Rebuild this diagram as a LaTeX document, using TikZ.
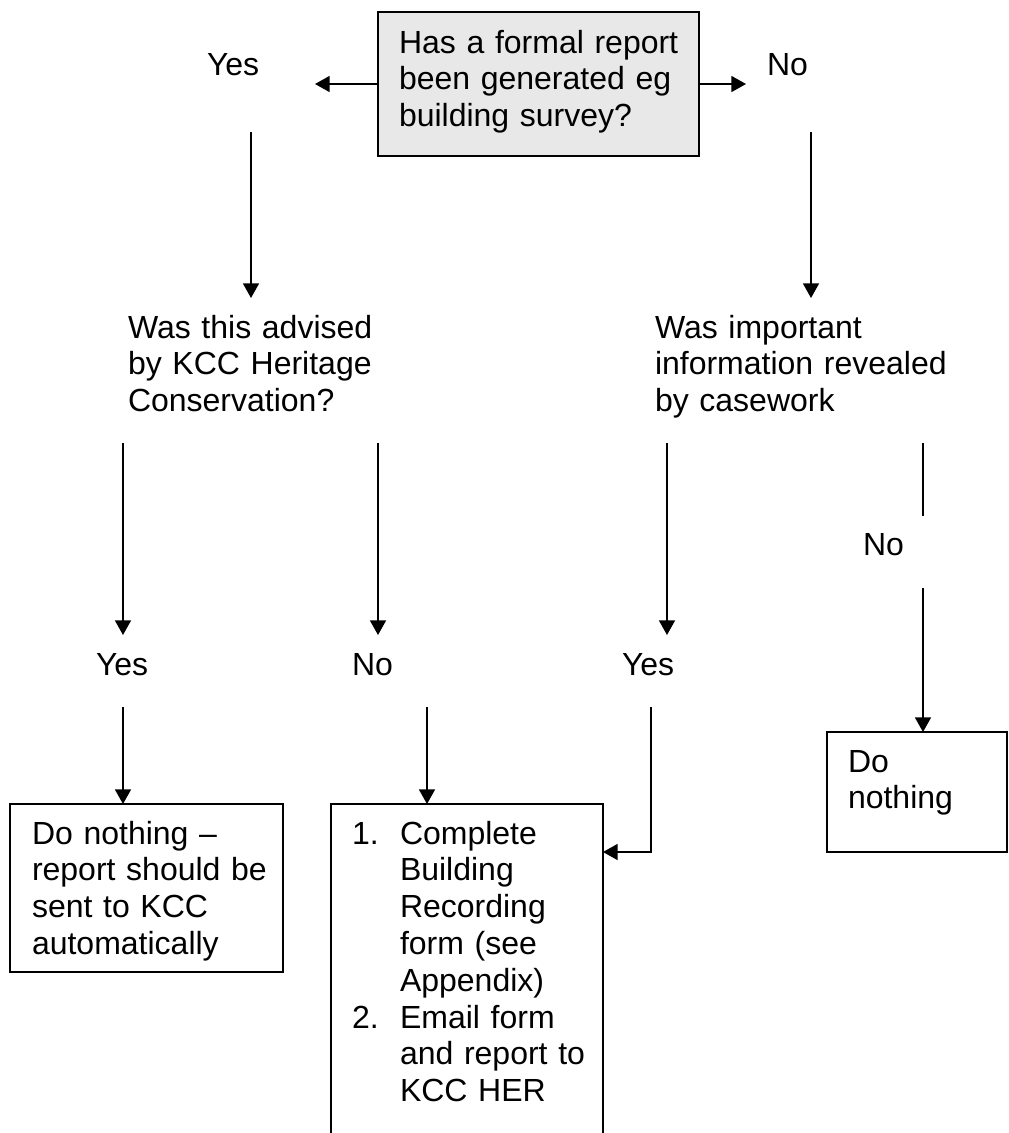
\documentclass[tikz,border=0pt]{standalone}
\usepackage{fontspec}
\setmainfont{Liberation Sans}
\usetikzlibrary{arrows.meta}
\definecolor{boxgray}{HTML}{E8E8E8}
\begin{document}
\begin{tikzpicture}[x=0.75pt,y=-0.75pt,
  every node/.style={inner sep=0pt,outer sep=0pt},
  txt/.style={anchor=base west,align=left,text width=260pt,
    font=\fontsize{24pt}{27.6pt}\selectfont},
  boxx/.style={draw,line width=1.3pt,rectangle},
  conn/.style={line width=1.3pt},
  arr/.style={conn,-{Triangle[length=11pt,width=12pt]}}]
\useasboundingbox (0,0) rectangle (1009,1133);

% boxes
\node[boxx,fill=boxgray,minimum width=240.75pt,minimum height=108pt] (q) at (538.5,84) {};
\node[boxx,minimum width=204.75pt,minimum height=126pt] (l) at (146.5,888) {};
\node[minimum width=204pt,minimum height=249pt] (m) at (467,970) {};
\draw[line width=1.3pt] (m.south west) -- (m.north west) -- (m.north east) -- (m.south east);
\node[boxx,minimum width=135pt,minimum height=90pt] (d) at (917,792) {};

% texts
\node[txt] (qt) at (399,53) {Has a formal report\\been generated eg\\building survey?};
\node[txt] (yes0) at (207,75) {Yes};
\node[txt] (no0) at (767,75) {No};
\node[txt] (adv) at (128,338) {Was this advised\\by KCC Heritage\\Conservation?};
\node[txt] (imp) at (655,338) {Was important\\information revealed\\by casework};
\node[txt] (yes1) at (96,675) {Yes};
\node[txt] (no1) at (352,675) {No};
\node[txt] (yes2) at (622,675) {Yes};
\node[txt] (no2) at (863,555) {No};
\node[txt] (lt) at (32,844) {Do nothing –\\report should be\\sent to KCC\\automatically};
\node[txt] (mt) at (352,844) {\makebox[36pt][l]{1.}Complete\\\makebox[36pt][l]{}Building\\\makebox[36pt][l]{}Recording\\\makebox[36pt][l]{}form (see\\\makebox[36pt][l]{}Appendix)\\\makebox[36pt][l]{2.}Email form\\\makebox[36pt][l]{}and report to\\\makebox[36pt][l]{}KCC HER};
\node[txt] (dt) at (848,772) {Do\\nothing};

% free connector ends
\coordinate (ya) at (315,84);
\coordinate (na) at (746,84);
\coordinate (yd1) at (251,132);
\coordinate (yd2) at (251,298);
\coordinate (nd1) at (811,132);
\coordinate (nd2) at (811,298);
\coordinate (a1) at (123,443);
\coordinate (a2) at (123,635);
\coordinate (b1) at (378,443);
\coordinate (b2) at (378,635);
\coordinate (c1) at (667,443);
\coordinate (c2) at (667,635);
\coordinate (e1) at (923,443);
\coordinate (e2) at (923,516);
\coordinate (e3) at (923,588);
\coordinate (f1) at (123,707);
\coordinate (g1) at (427,707);
\coordinate (h1) at (651,707);
\coordinate (h2) at (651,852);

% connectors
\draw[arr] (q.west) -- (ya);
\draw[arr] (q.east) -- (na);
\draw[arr] (yd1) -- (yd2);
\draw[arr] (nd1) -- (nd2);
\draw[arr] (a1) -- (a2);
\draw[arr] (b1) -- (b2);
\draw[arr] (c1) -- (c2);
\draw[conn] (e1) -- (e2);
\draw[arr] (e3) -- (e3 |- d.north);
\draw[arr] (f1) -- (f1 |- l.north);
\draw[arr] (g1) -- (g1 |- m.north);
\draw[arr] (h1) -- (h2) -- (h2 -| m.east);
\end{tikzpicture}
\end{document}
